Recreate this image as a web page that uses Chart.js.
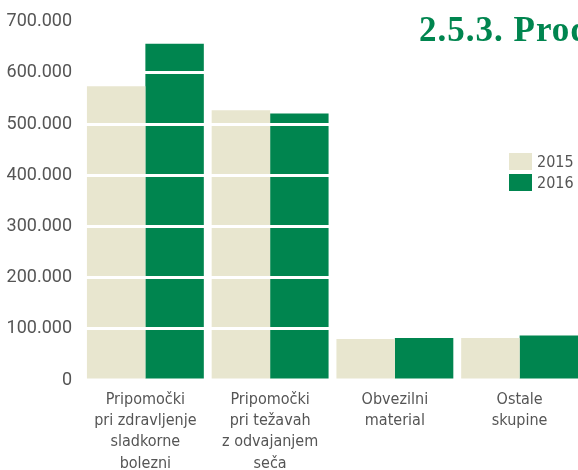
<!DOCTYPE html>
<html>
<head>
<meta charset="utf-8">
<script src="https://cdn.jsdelivr.net/npm/chart.js@4"></script>
<style>
    html, body { margin: 0; padding: 0; background: #fff; }
    #wrap { position: relative; width: 578px; height: 470px; overflow: hidden; }
    #box { position: absolute; left: 0; top: 0; width: 582px; height: 470px; }
    #title {
        position: absolute; left: 419px; top: 10px; white-space: nowrap;
        font-family: 'Liberation Serif', serif; font-weight: bold; font-size: 35px;
        letter-spacing: 1px; color: #00854f;
    }
    #legend {
        position: absolute; left: 509px; top: 151px;
        font-family: 'DejaVu Sans Condensed', sans-serif;
        font-size: 16px; color: #555;
    }
    .item { display: flex; align-items: center; height: 20px; margin-bottom: 1px; }
    .swatch { width: 23px; height: 17px; margin-right: 5px; }
</style>
</head>
<body>
<div id="wrap">
    <div id="box"><canvas id="chart"></canvas></div>
    <div id="title">2.5.3. Prod</div>
    <div id="legend"></div>
</div>
<script>
// data
const categories = [
    ["Pripomočki", "pri zdravljenje", "sladkorne", "bolezni"],
    ["Pripomočki", "pri težavah", "z odvajanjem", "seča"],
    ["Obvezilni", "material"],
    ["Ostale", "skupine"]
];
const seriesNames = ["2015", "2016"];
const values2015 = [574000, 527000, 80000, 82000];
const values2016 = [657000, 521000, 82000, 87000];
const seriesColors = ["#e8e6cf", "#00854f"];

// legend in html
const legendEl = document.getElementById("legend");
seriesNames.forEach((name, i) => {
    let row = document.createElement("div");
    row.className = "item";
    row.innerHTML = '<span class="swatch" style="background:' + seriesColors[i] + '"></span>' + name;
    legendEl.appendChild(row);
});

const chart = new Chart(document.getElementById("chart"), {
    type: "bar",
    data: {
        labels: categories,
        datasets: [{
            label: seriesNames[0],
            data: values2015,
            backgroundColor: seriesColors[0]
        },
        {
            label: seriesNames[1],
            data: values2016,
            backgroundColor: seriesColors[1]
        }]
    },
    options: {
        responsive: true,
        maintainAspectRatio: false,
        animation: false,
        layout: { padding: { top: 20, left: 0, right: 0, bottom: 0 } },
        datasets: {
            bar: { categoryPercentage: 0.937, barPercentage: 1.0 }
        },
        plugins: {
            legend: { display: false },
            tooltip: { enabled: false }
        },
        scales: {
            x: {
                grid: { display: false, drawTicks: false },
                border: { display: false },
                ticks: {
                    color: "#555",
                    padding: 9,
                    maxRotation: 0,
                    autoSkip: false,
                    font: { family: "'DejaVu Sans Condensed', sans-serif", size: 16, lineHeight: 1.33 }
                },
                afterFit: (s) => { s.height = 90; }
            },
            y: {
                min: 0,
                max: 700000,
                grid: {
                    z: 1,
                    lineWidth: 3,
                    drawTicks: false,
                    color: (ctx) => ctx.tick && ctx.tick.value === 0 ? "rgba(0,0,0,0)" : "#ffffff"
                },
                border: { display: false },
                ticks: {
                    stepSize: 100000,
                    color: "#555",
                    padding: 11,
                    font: { family: "Roboto", size: 18 },
                    callback: (v) => v === 0 ? "0" : v.toLocaleString("de-DE")
                },
                afterFit: (s) => { s.width = 83; }
            }
        }
    }
});
</script>
</body>
</html>
